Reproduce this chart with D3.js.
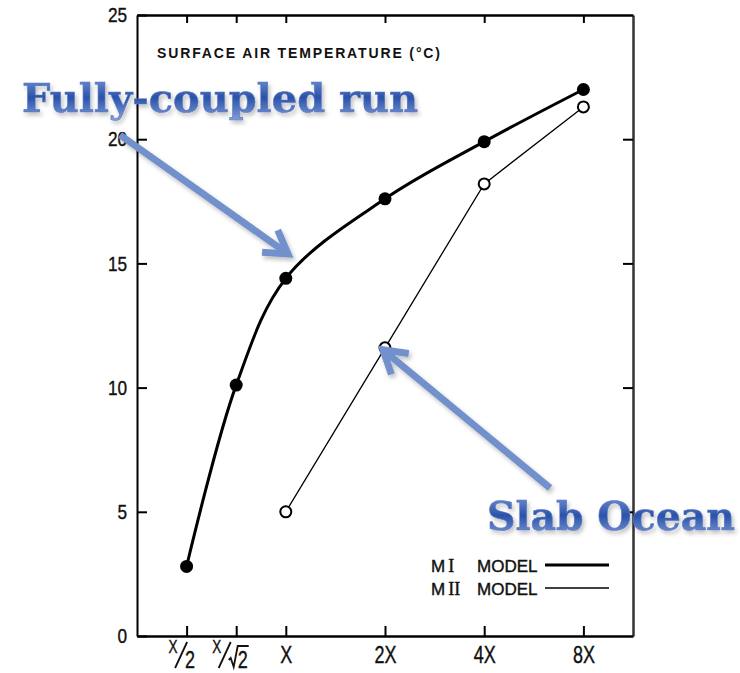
<!DOCTYPE html>
<html>
<head>
<meta charset="utf-8">
<script src="https://cdn.jsdelivr.net/npm/d3@7"></script>
<style>
  body { margin: 0; background: #fff; }
  svg { display: block; }
</style>
</head>
<body>
<div id="app"></div>
<script>

// CO2 multiple of the control value, as log2 of the factor
var levels = [-1, -0.5, 0, 1, 2, 3]
var levelNames = ['X/2', 'X/√2', 'X', '2X', '4X', '8X']

// surface air temperature (degC)
var fullyCoupled = [2.8, 10.1, 14.4, 17.6, 19.9, 22.0]   // M I model
var slabLevels = [0, 1, 2, 3]
var slabOcean = [5.0, 11.6, 18.2, 21.3]                    // M II model

var yTicks = [0, 5, 10, 15, 20, 25]

var width = 740
var height = 673
var plotLeft = 137, plotRight = 633, plotTop = 15, plotBottom = 636

var svg = d3.select('#app').html('')
	.append('svg')
	  .attr('width', width)
	  .attr('height', height)

var x = d3.scaleLinear().domain([-1.5, 3.5]).range([plotLeft, plotRight])
var y = d3.scaleLinear().domain([0, 25]).range([plotBottom, plotTop])

var defs = svg.append('defs')

// blue text fill, dark in the middle
var grad = defs.append('linearGradient')
	.attr('id', 'blueText')
	.attr('x1', 0).attr('y1', 0).attr('x2', 0).attr('y2', 1)
grad.append('stop').attr('offset', '0%').attr('stop-color', '#7d9ad8')
grad.append('stop').attr('offset', '50%').attr('stop-color', '#2a52aa')
grad.append('stop').attr('offset', '100%').attr('stop-color', '#86a1da')

var shadow = defs.append('filter').attr('id', 'shadow')
	.attr('x', '-10%').attr('y', '-10%').attr('width', '130%').attr('height', '140%')
shadow.append('feDropShadow')
	.attr('dx', 2).attr('dy', 3).attr('stdDeviation', 2)
	.attr('flood-color', '#000').attr('flood-opacity', 0.25)

// frame axes, ticks point inward on every side
var tickFont = '"Liberation Sans", sans-serif'

svg.append('g')
	.attr('transform', 'translate(' + plotLeft + ',0)')
	.call(d3.axisLeft(y).tickValues(yTicks).tickSizeInner(-10).tickSizeOuter(0).tickPadding(8))
	.call(function(g) {
		g.select('.domain').attr('stroke-width', 2)
		g.selectAll('.tick line').attr('stroke-width', 2)
		g.selectAll('text').attr('font-family', tickFont).attr('font-size', 21).attr('fill', '#111')
			.attr('stroke', '#111').attr('stroke-width', 0.4)
			.attr('transform', 'scale(0.82,1)').attr('x', -12)
	})

svg.append('g')
	.attr('transform', 'translate(' + plotRight + ',0)')
	.call(d3.axisRight(y).tickValues(yTicks.slice(1, -1)).tickSizeInner(-10).tickSizeOuter(0).tickFormat(''))
	.call(function(g) {
		g.select('.domain').attr('stroke-width', 2.5).attr('stroke', '#333')
		g.selectAll('.tick line').attr('stroke-width', 2)
	})

svg.append('g')
	.attr('transform', 'translate(0,' + plotTop + ')')
	.call(d3.axisTop(x).tickValues(levels).tickSizeInner(-8).tickSizeOuter(0).tickFormat(''))
	.call(function(g) {
		g.select('.domain').attr('stroke-width', 2.5)
		g.selectAll('.tick line').attr('stroke-width', 2)
	})

var xAxis = svg.append('g')
	.attr('transform', 'translate(0,' + plotBottom + ')')
	.call(d3.axisBottom(x).tickValues(levels).tickSizeInner(-10).tickSizeOuter(0).tickFormat(''))
	.call(function(g) {
		g.select('.domain').attr('stroke-width', 2.5)
		g.selectAll('.tick line').attr('stroke-width', 2)
	})

// x labels; the fractions are built from a raised numerator, a slash and a lowered denominator
xAxis.selectAll('.tick').each(function(d, i) {
	var name = levelNames[i]
	var tick = d3.select(this)
	var txt = function(s, tx, ty, size) {
		return tick.append('text')
			.attr('transform', 'translate(' + tx + ',' + ty + ') scale(0.75,1)')
			.attr('fill', '#111')
			.attr('stroke', '#111').attr('stroke-width', 0.4)
			.attr('font-family', tickFont)
			.attr('font-size', size)
			.attr('text-anchor', 'middle')
			.text(s)
	}
	if (name.indexOf('/') < 0) {
		txt(name, 0, 27, 24)
		return
	}
	var parts = name.split('/')
	var root = parts[1].indexOf('√') === 0
	var off = root ? -20 : -14
	txt(parts[0], off, 17, 18)
	tick.append('line')
		.attr('x1', off + 2).attr('y1', 32)
		.attr('x2', off + 14).attr('y2', 6)
		.attr('stroke', '#111').attr('stroke-width', 1.8)
	if (root) {
		// square root sign with its bar over the 2
		tick.append('path')
			.attr('d', 'M-8,24 L-6,22 L-3,31 L1,10 L12,10')
			.attr('fill', 'none')
			.attr('stroke', '#111').attr('stroke-width', 1.8)
		txt('2', 6, 32, 24)
	} else {
		txt(parts[1], 3, 32, 24)
	}
})

svg.append('text')
	.attr('x', 157).attr('y', 58)
	.attr('font-family', '"Liberation Sans", sans-serif')
	.attr('font-size', 14)
	.attr('font-weight', 'bold')
	.attr('fill', '#111')
	.attr('textLength', 283)
	.text('SURFACE AIR TEMPERATURE  (°C)')

// lines
var coupledLine = d3.line()
	.x(function(d, i) { return x(levels[i]) })
	.y(function(d) { return y(d) })
	.curve(d3.curveCatmullRom.alpha(0.5))

var slabLine = d3.line()
	.x(function(d, i) { return x(slabLevels[i]) })
	.y(function(d) { return y(d) })

svg.append('path')
	.datum(slabOcean)
	.attr('d', slabLine)
	.attr('fill', 'none')
	.attr('stroke', '#000')
	.attr('stroke-width', 1.3)

svg.append('path')
	.datum(fullyCoupled)
	.attr('d', coupledLine)
	.attr('fill', 'none')
	.attr('stroke', '#000')
	.attr('stroke-width', 3)

svg.append('g').selectAll('circle')
	.data(fullyCoupled)
	.enter().append('circle')
	  .attr('cx', function(d, i) { return x(levels[i]) })
	  .attr('cy', function(d) { return y(d) })
	  .attr('r', 6.5)
	  .attr('fill', '#000')

svg.append('g').selectAll('circle')
	.data(slabOcean)
	.enter().append('circle')
	  .attr('cx', function(d, i) { return x(slabLevels[i]) })
	  .attr('cy', function(d) { return y(d) })
	  .attr('r', 5.5)
	  .attr('fill', '#fff')
	  .attr('stroke', '#000')
	  .attr('stroke-width', 2)

// legend
var legend = svg.append('g')
	.attr('font-family', '"Liberation Sans", sans-serif')
	.attr('font-size', 17)
	.attr('fill', '#111')
	.attr('stroke', '#111')
	.attr('stroke-width', 0.4)

var legendRows = [
	{ name: 'M', num: 'I', y: 572, w: 3 },
	{ name: 'M', num: 'II', y: 595, w: 1.4 }
]
legendRows.forEach(function(r) {
	var t = legend.append('text').attr('x', 431).attr('y', r.y)
	t.append('tspan').text(r.name)
	t.append('tspan').attr('font-family', '"Liberation Serif", serif').attr('font-size', 18).attr('dx', 3).text(r.num)
	legend.append('text').attr('x', 477).attr('y', r.y).text('MODEL')
	legend.append('line')
		.attr('x1', 545).attr('x2', 609)
		.attr('y1', r.y - 7).attr('y2', r.y - 7)
		.attr('stroke', '#000').attr('stroke-width', r.w)
})

// annotations
var arrowColor = '#7290cb'

function arrow(x1, y1, x2, y2) {
	var a = Math.atan2(y2 - y1, x2 - x1)
	var len = 26, spread = 0.55
	var g = svg.append('g').attr('filter', 'url(#shadow)')
	g.append('line')
		.attr('x1', x1).attr('y1', y1).attr('x2', x2).attr('y2', y2)
		.attr('stroke', arrowColor).attr('stroke-width', 7)
	g.append('path')
		.attr('d', 'M' + (x2 - len * Math.cos(a - spread)) + ',' + (y2 - len * Math.sin(a - spread)) +
			'L' + x2 + ',' + y2 +
			'L' + (x2 - len * Math.cos(a + spread)) + ',' + (y2 - len * Math.sin(a + spread)))
		.attr('fill', 'none')
		.attr('stroke', arrowColor).attr('stroke-width', 7)
		.attr('stroke-linejoin', 'miter')
}

arrow(120, 135, 288, 254)
arrow(550, 488, x(1) - 2, y(slabOcean[1]) + 2)

function label(txt, x0, y0, w) {
	svg.append('text')
		.attr('x', x0).attr('y', y0)
		.attr('font-family', '"DejaVu Serif", "Liberation Serif", serif')
		.attr('font-weight', 'bold')
		.attr('font-size', 40)
		.attr('fill', 'url(#blueText)')
		.attr('stroke', '#5a79c0')
		.attr('stroke-width', 0.6)
		.attr('filter', 'url(#shadow)')
		.attr('textLength', w)
		.attr('lengthAdjust', 'spacingAndGlyphs')
		.text(txt)
}

label('Fully-coupled run', 22, 112, 396)
label('Slab Ocean', 487, 530, 248)

</script>
</body>
</html>
